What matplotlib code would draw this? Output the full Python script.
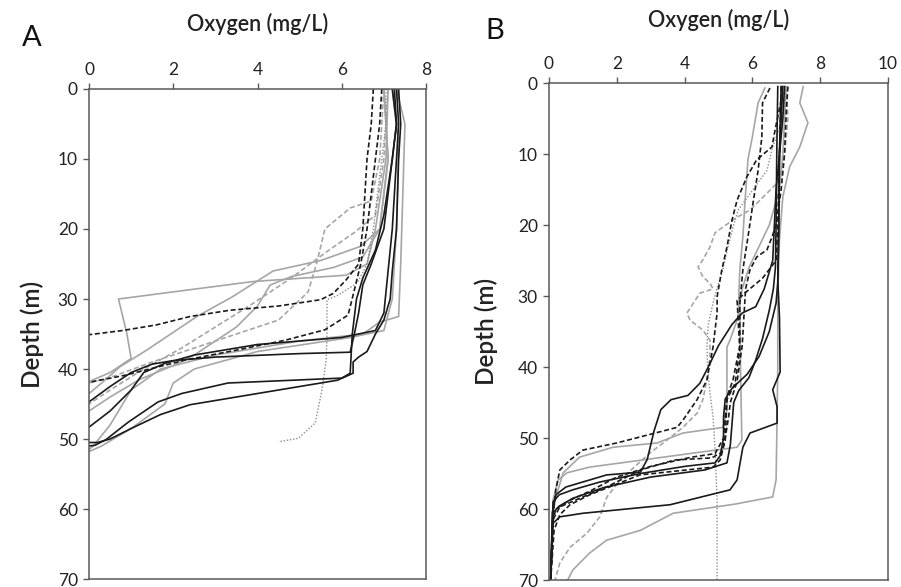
import numpy as np
import matplotlib
matplotlib.use("Agg")
import matplotlib.pyplot as plt

plt.rcParams['font.family'] = ['Lato', 'DejaVu Sans']

# ---- panel A profiles: (oxygen mg/L, depth m) ----
a_black_1 = [(7.2, 0), (7.3, 5), (7.2, 10), (7.0, 20), (6.7, 25), (6.5, 28), (6.4, 32), (6.3, 35),
             (6.2, 37.6), (5.0, 37.8), (3.0, 38.3), (2.0, 38.8), (1.5, 39.3), (1.0, 40.5),
             (0.5, 42.5), (0.0, 44.7)]
a_black_2 = [(7.25, 0), (7.3, 5), (7.2, 10), (7.0, 18), (6.8, 23), (6.5, 27), (6.35, 30), (6.25, 35),
             (6.2, 40.6), (6.0, 41.3), (3.3, 42), (2.2, 43.5), (1.64, 44.7), (0.93, 47.6),
             (0.4, 50.1), (0.14, 50.9), (0.0, 51)]
a_black_3 = [(7.3, 0), (7.35, 5), (7.3, 10), (7.2, 20), (7.1, 26), (7.0, 32), (6.8, 34.5), (6.0, 35.5),
             (4.0, 36.5), (2.5, 38), (1.8, 39.2), (1.3, 40.5), (1.0, 43), (0.5, 46), (0.0, 48.3)]
a_black_4 = [(7.35, 0), (7.4, 5), (7.35, 10), (7.3, 20), (7.2, 26), (7.15, 30), (7.0, 33), (6.8, 35),
             (6.6, 37.5), (6.4, 38.3), (6.27, 39), (6.27, 40.6), (5.9, 41.6), (4.0, 43.5),
             (2.4, 45.1), (1.7, 46.5), (1.0, 48.5), (0.5, 50), (0.2, 50.5), (0.0, 50.5)]
a_dash_1 = [(6.75, 0), (6.7, 5), (6.6, 10), (6.55, 15), (6.5, 20), (6.4, 25), (6.1, 27.3), (5.8, 29.2),
            (5.5, 30.1), (4.5, 31), (3.35, 31.6), (2.4, 32.5), (1.6, 33.7), (0.8, 34.5), (0.0, 35.1)]
a_dash_2 = [(6.95, 0), (6.9, 5), (6.8, 10), (6.7, 15), (6.6, 20), (6.45, 25), (6.3, 28.7), (6.15, 32.3),
            (5.6, 34.4), (4.65, 35.9), (3.5, 37.3), (2.3, 38.7), (0.85, 40.9), (0.0, 41.9)]
a_gray_1 = [(7.1, 0), (7.05, 10), (6.8, 20), (6.6, 25), (6.1, 26.6), (3.9, 27.5), (0.7, 30), (0.9, 35),
            (1.0, 38.5), (0.5, 40.5), (0.0, 41.8)]
a_gray_2 = [(7.0, 0), (7.1, 10), (6.9, 20), (6.44, 22.5), (5.5, 24.5), (4.37, 26), (3.4, 29.7),
            (2.56, 32.5), (1.37, 37.3), (0.73, 39.7), (0.3, 42), (0.0, 43.5)]
a_gray_3 = [(7.3, 0), (7.5, 5), (7.45, 15), (7.4, 25), (7.35, 32.5), (6.9, 33.3), (6.5, 35), (5.0, 36),
            (3.0, 38), (1.7, 40), (1.0, 43), (0.5, 48), (0.1, 51), (0.0, 51.5)]
a_gray_4 = [(7.2, 0), (7.35, 8), (7.3, 20), (7.2, 30), (7.0, 34.5), (6.2, 35.5), (4.0, 37.5), (2.5, 40),
            (2.0, 42), (1.8, 45), (1.0, 48.5), (0.3, 51), (0.0, 51.8)]
a_gray_5 = [(7.0, 0), (7.1, 10), (6.9, 20), (6.5, 24), (5.8, 25.5), (4.8, 26.8), (4.3, 28), (4.0, 31),
            (3.5, 34), (3.0, 36), (2.5, 38), (2.0, 39.5), (1.2, 41.5), (0.5, 44), (0.0, 46)]
a_gdash_1 = [(7.0, 0), (6.9, 10), (6.7, 16), (6.2, 17), (5.6, 20), (5.4, 25), (5.2, 29), (4.5, 33),
             (3.5, 35), (2.5, 37), (1.5, 39), (0.6, 41), (0.0, 42)]
a_gdash_2 = [(7.1, 0), (7.0, 10), (6.8, 18), (6.3, 20.5), (5.7, 23), (4.8, 27), (3.8, 31), (3.0, 34),
             (2.2, 37), (1.3, 40), (0.5, 43), (0.0, 45)]
a_dot_1 = [(7.05, 0), (7.05, 5), (6.95, 10), (6.85, 15), (6.75, 20), (6.6, 25), (6.37, 27.7),
           (5.9, 29.5), (5.65, 30.1), (5.65, 35), (5.63, 38.7), (5.53, 43), (5.37, 47.7),
           (4.97, 49.9), (4.5, 50.4)]

# ---- panel B profiles ----
b_black_1 = [(6.9, 0.5), (6.85, 5), (6.8, 10), (6.78, 20), (6.75, 27.7), (6.8, 33), (6.82, 40.7),
             (6.6, 43.2), (6.73, 45.6), (6.73, 47.9), (5.93, 49.3), (5.72, 51.3), (5.55, 55.9),
             (5.34, 57.3), (3.57, 59.4), (1.0, 60.6), (0.32, 61.1), (0.12, 62), (0.09, 65.4),
             (0.05, 70)]
b_black_2 = [(6.95, 0.5), (6.9, 5), (6.8, 10), (6.7, 15), (6.65, 20), (6.6, 25), (6.35, 29),
             (6.1, 31.5), (5.7, 32.4), (5.4, 34), (5.0, 37), (4.7, 40), (4.45, 42.3), (4.1, 44),
             (3.6, 44.6), (3.3, 46), (3.1, 49), (2.9, 53), (2.7, 54.8), (1.7, 55.2), (0.5, 56.9),
             (0.2, 58), (0.1, 60.5), (0.05, 70)]
b_black_3 = [(6.85, 0.5), (6.8, 10), (6.78, 20), (6.75, 28), (6.7, 31), (6.5, 35), (6.2, 38.5),
             (5.85, 41), (5.4, 43), (5.2, 44.5), (5.15, 47), (5.15, 50), (5.05, 52.5), (4.9, 53.5),
             (4.0, 54), (2.7, 55), (1.5, 56.2), (0.7, 57.3), (0.3, 58), (0.12, 59), (0.05, 70)]
b_black_4 = [(6.75, 0.5), (6.72, 10), (6.7, 20), (6.68, 26), (6.62, 29), (6.5, 32), (6.3, 36),
             (6.1, 39), (5.9, 41.5), (5.6, 43.3), (5.45, 45), (5.4, 48), (5.35, 51), (5.25, 53.5),
             (4.6, 54.5), (3.0, 55.5), (1.6, 57), (0.7, 58.5), (0.3, 59.6), (0.12, 60.5), (0.05, 70)]
b_dash_1 = [(6.52, 0.7), (6.3, 2.8), (6.28, 7.6), (6.17, 12.3), (6.02, 16.9), (5.87, 21.7),
            (5.72, 26.3), (5.63, 31), (5.63, 37), (5.43, 41.8), (5.25, 44.2), (5.2, 47), (5.15, 50),
            (4.9, 52.2), (4.2, 52.7), (3.0, 54), (2.0, 55.5), (1.2, 57.5), (0.6, 58.8), (0.2, 60),
            (0.1, 62), (0.05, 70)]
b_dash_2 = [(6.9, 1.3), (6.67, 6.6), (6.58, 9), (6.13, 10.8), (5.84, 13.2), (5.55, 16.5),
            (5.4, 19.3), (5.25, 23.1), (5.1, 26.3), (4.96, 30.1), (4.96, 32.4), (4.84, 37.2),
            (4.66, 41.8), (4.37, 44.6), (3.95, 47.5), (3.78, 48.5), (2.0, 50.7), (1.0, 51.7),
            (0.62, 53.1), (0.32, 54.5), (0.2, 57.3), (0.1, 62), (0.05, 70)]
b_dash_3 = [(7.05, 0.5), (7.0, 4), (6.95, 10), (6.85, 15), (6.7, 20), (6.58, 21.7), (6.43, 23.5),
            (6.13, 24.5), (5.93, 26.3), (5.8, 29), (5.75, 33), (5.7, 37), (5.55, 42), (5.35, 45),
            (5.3, 47), (5.2, 50), (5.1, 52), (4.8, 52.8), (3.7, 53.1), (2.7, 54.5), (1.7, 56.9),
            (1.0, 58.3), (0.32, 59.7), (0.12, 61.5), (0.05, 70)]
b_dash_4 = [(6.85, 0.5), (6.8, 10), (6.75, 20), (6.7, 25), (6.3, 27.5), (5.8, 29.5), (5.55, 30.6),
            (5.63, 37.6), (5.49, 42.3), (5.25, 44.6), (5.2, 50.3), (5.05, 53.1), (4.84, 54.1),
            (2.68, 55.2), (1.2, 58), (0.62, 59.4), (0.32, 60.8), (0.15, 63), (0.05, 70)]
b_gray_1 = [(7.5, 0.5), (7.4, 2.8), (7.64, 5.6), (7.4, 9), (7.1, 11.8), (6.9, 16), (6.8, 22),
            (6.75, 30), (6.75, 40), (6.72, 50), (6.7, 55.9), (6.6, 58.3), (5.5, 59.3), (3.66, 60.6),
            (2.7, 63), (1.7, 64.4), (1.2, 66.2), (0.7, 68.6), (0.5, 70.5)]
b_gray_2 = [(6.37, 0.7), (6.17, 2.8), (6.0, 7.6), (5.87, 10.8), (5.78, 16.9), (5.72, 21.7),
            (5.63, 26.3), (5.6, 30), (5.58, 33), (5.34, 36.2), (5.25, 37.2), (5.25, 46.1),
            (5.13, 48.5), (3.95, 49.3), (3.19, 50.7), (1.89, 51.3), (0.9, 52.7), (0.42, 54.9),
            (0.24, 57.7), (0.12, 60.1), (0.05, 70)]
b_gray_3 = [(7.0, 0.5), (6.95, 5), (6.9, 10), (6.8, 15), (6.5, 20), (6.2, 23), (5.9, 26), (5.7, 29),
            (5.63, 31), (5.65, 40), (5.69, 50.3), (5.55, 51.3), (4.45, 52), (1.2, 54.1),
            (0.53, 54.9), (0.27, 55.9), (0.12, 58.7), (0.05, 70)]
b_gdash_1 = [(7.0, 0.5), (7.05, 5), (6.95, 10), (6.81, 13.7), (6.52, 15.1), (5.93, 17.9),
             (5.55, 18.9), (5.13, 20.3), (4.9, 21.1), (4.75, 23.1), (4.54, 24.9), (4.4, 25.9),
             (4.54, 27.3), (4.75, 28.2), (4.84, 29), (4.45, 29.6), (4.07, 32.4), (4.16, 33.4),
             (4.54, 34.8), (4.75, 36.2), (4.75, 38.6), (4.66, 41.8), (4.54, 44.6), (4.37, 46.5),
             (3.95, 48.5), (3.48, 50.3), (2.98, 52.1), (2.1, 55.9), (1.71, 58.3), (1.5, 61.1),
             (1.12, 63.4), (0.62, 65.4), (0.32, 67.6), (0.18, 70)]
b_dot_1 = [(7.0, 0.5), (6.95, 3), (6.81, 6.2), (6.6, 9), (6.43, 12.3), (5.87, 16), (5.58, 17.9),
           (5.43, 20.3), (5.28, 23.1), (5.13, 26.3), (4.95, 29), (4.84, 31), (4.7, 34), (4.66, 37),
           (4.68, 40), (4.75, 43.7), (4.84, 47), (4.9, 51.7), (4.96, 58.7), (4.96, 70.5)]

x_ticks_a = [0, 2, 4, 6, 8]
x_ticks_b = [0, 2, 4, 6, 8, 10]
y_ticks = [0, 10, 20, 30, 40, 50, 60, 70]

BLACK = '#1a1a1a'
GRAY = '#a6a6a6'
styles = {
    'black': dict(color=BLACK, lw=1.2, ls='-'),
    'dash': dict(color=BLACK, lw=1.2, ls=(0, (3, 1.6))),
    'gray': dict(color=GRAY, lw=1.2, ls='-'),
    'gdash': dict(color=GRAY, lw=1.2, ls=(0, (3, 1.6))),
    'dot': dict(color='#8c8c8c', lw=1.0, ls=(0, (1, 1.3))),
}

panel_a = [('gray', a_gray_1), ('gray', a_gray_2), ('gray', a_gray_3), ('gray', a_gray_4),
           ('gray', a_gray_5), ('gdash', a_gdash_1), ('gdash', a_gdash_2), ('dot', a_dot_1),
           ('dash', a_dash_1), ('dash', a_dash_2), ('black', a_black_1), ('black', a_black_2),
           ('black', a_black_3), ('black', a_black_4)]
panel_b = [('gray', b_gray_1), ('gray', b_gray_2), ('gray', b_gray_3), ('gdash', b_gdash_1),
           ('dot', b_dot_1), ('dash', b_dash_1), ('dash', b_dash_2), ('dash', b_dash_3),
           ('dash', b_dash_4), ('black', b_black_1), ('black', b_black_2), ('black', b_black_3),
           ('black', b_black_4)]

fig = plt.figure(figsize=(9.01, 5.87), dpi=100)
ax_a = fig.add_axes([0.0988, 0.0136, 0.374, 0.8348])
ax_b = fig.add_axes([0.6093, 0.0119, 0.3762, 0.8467])

spine_col = '#595959'
for ax, profiles, xt, xmax, xpad, ypad in [(ax_a, panel_a, x_ticks_a, 8, 22, 10),
                                           (ax_b, panel_b, x_ticks_b, 10, 21, 14)]:
    for kind, pts in profiles:
        o, d = np.array(pts).T
        ax.plot(o, d, **styles[kind])
    ax.set_xlim(0, xmax)
    ax.set_ylim(70, 0)
    ax.set_xticks(xt)
    ax.set_yticks(y_ticks)
    ax.xaxis.tick_top()
    ax.xaxis.set_label_position('top')
    ax.tick_params(axis='both', direction='out', length=4, width=1, color=spine_col,
                   labelsize=12.5, labelcolor='#222222', pad=4)
    for s in ax.spines.values():
        s.set_color(spine_col)
        s.set_linewidth(1.1)
    ax.set_xlabel('Oxygen (mg/L)', fontsize=15.5, fontweight='semibold', labelpad=xpad, color='#222222')
    ax.set_ylabel('Depth (m)', fontsize=17.5, fontweight='semibold', labelpad=ypad, color='#222222')

fig.text(0.024, 0.935, 'A', fontsize=21, color='#111111', ha='left', va='center')
fig.text(0.539, 0.947, 'B', fontsize=21, color='#111111', ha='left', va='center')

fig.savefig('out.png', dpi=100)
